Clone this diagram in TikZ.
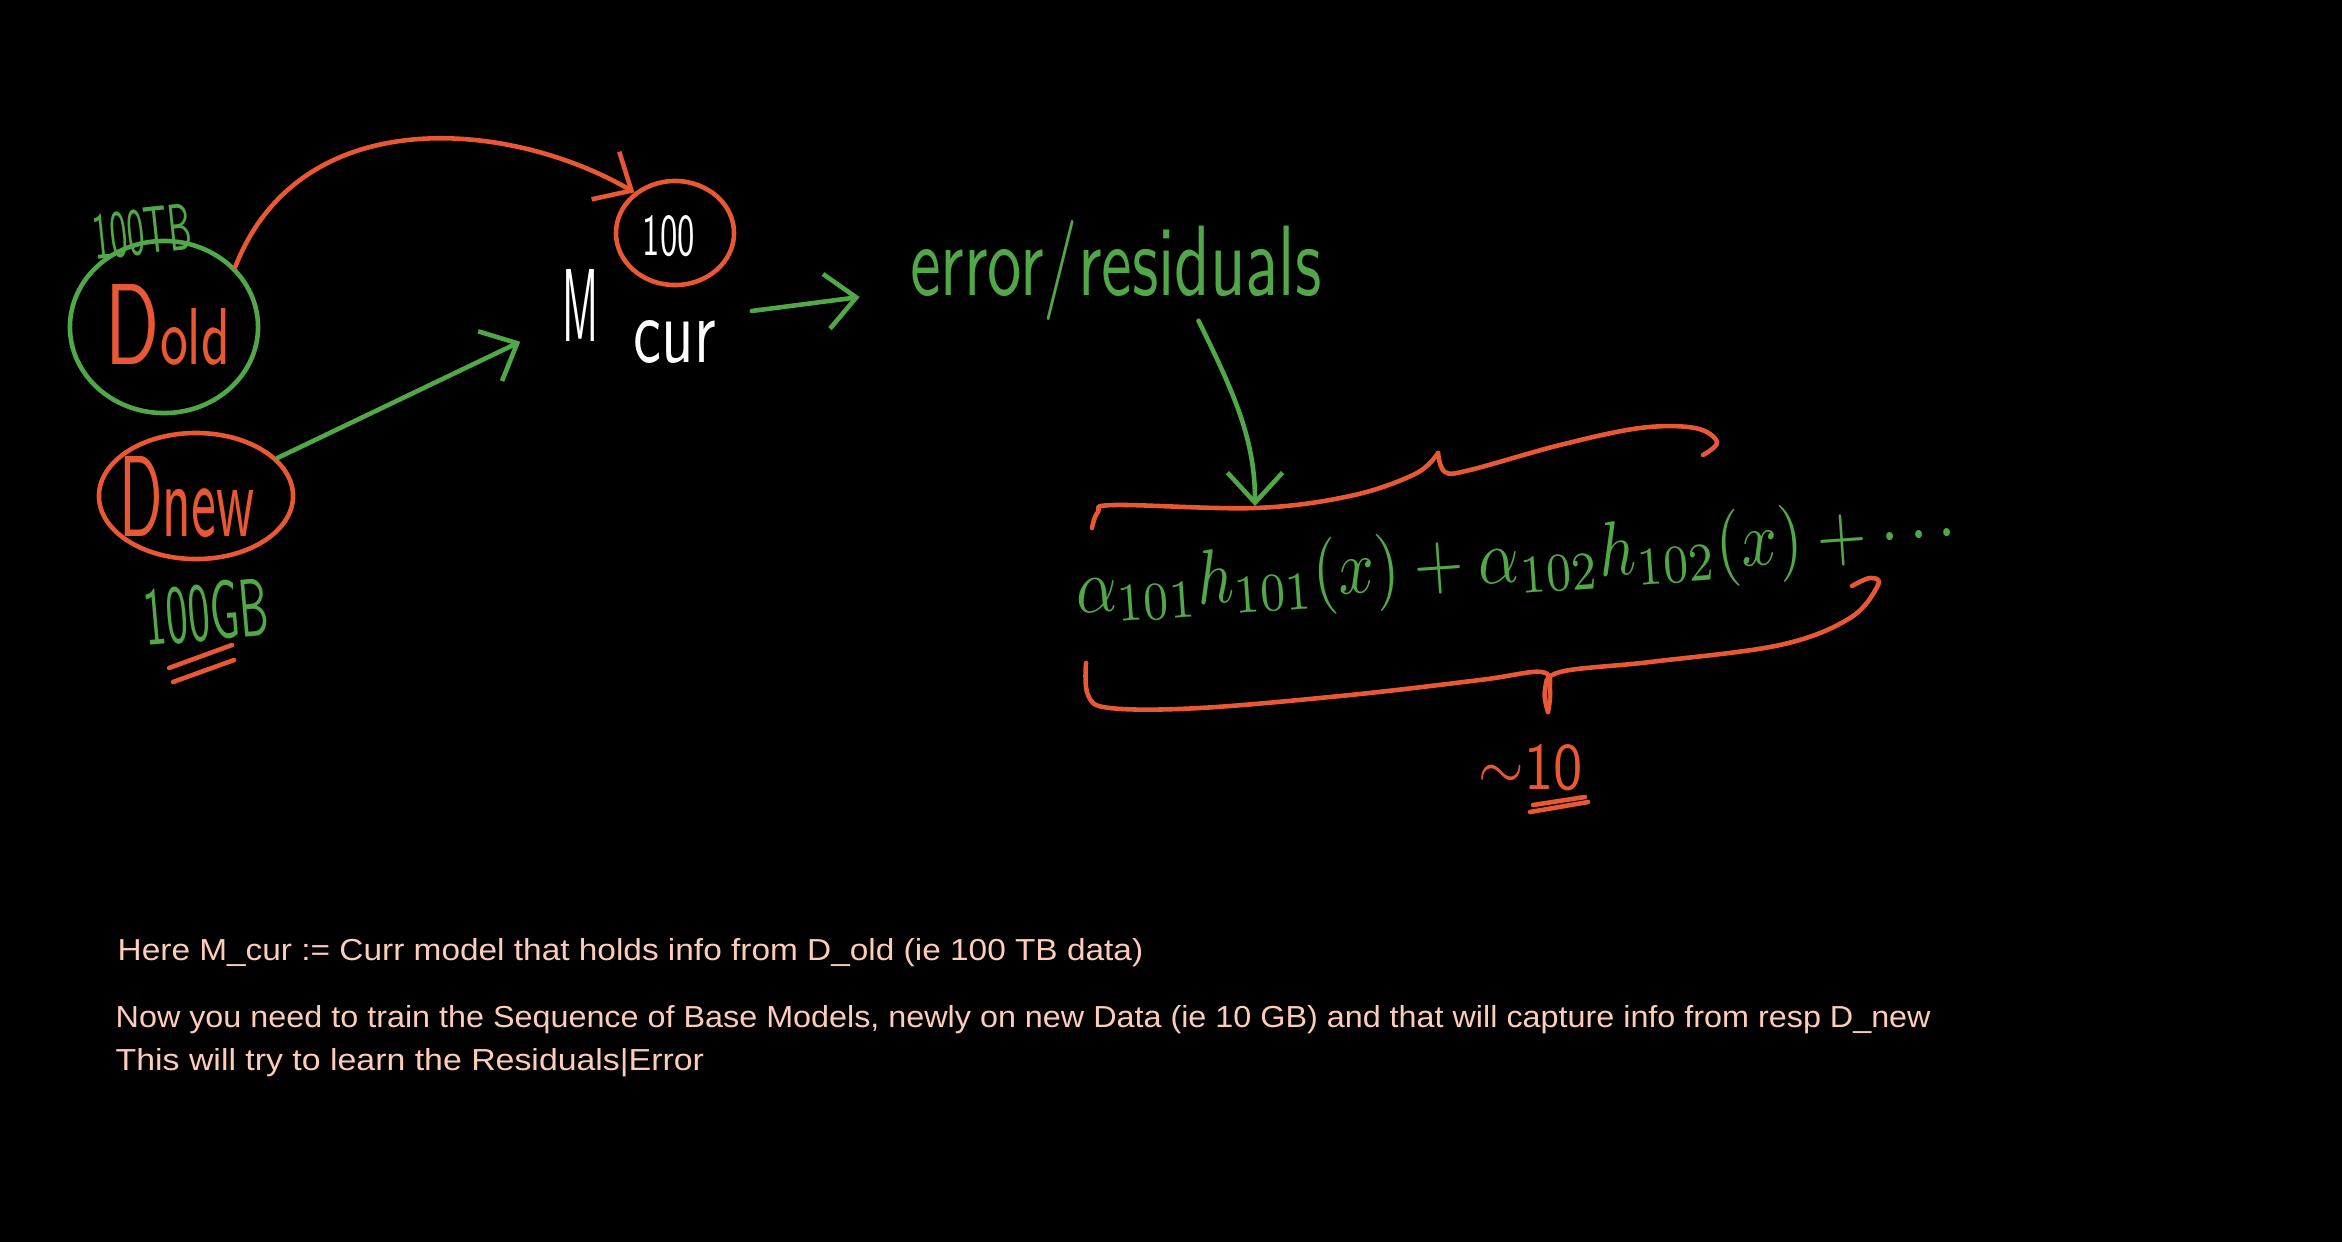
\documentclass[tikz,border=0pt]{standalone}
\usepackage{fontspec}
\setmainfont{Liberation Sans}
\usetikzlibrary{arrows.meta,shapes.geometric,calc}
\definecolor{pgreen}{RGB}{82,168,72}
\definecolor{pred}{RGB}{232,88,52}
\definecolor{peach}{RGB}{253,205,185}
\newcommand{\hwbox}[3]{\resizebox{#1}{#2}{#3}}
\begin{document}
\begin{tikzpicture}[x=0.01cm,y=-0.01cm,
  ink/.style={line width=1.3pt,line cap=round,line join=round},
  gpen/.style={ink,draw=pgreen},
  rpen/.style={ink,draw=pred},
  barb/.style={-{Straight Barb[length=3mm,width=5.5mm]}},
  lbl/.style={inner sep=0pt,font=\sffamily},
  note/.style={inner sep=0pt,anchor=base west,text=peach}]
\fill[black] (0,0) rectangle (2342,1242);
\useasboundingbox (0,0) rectangle (2342,1242);

% ---- left: data sets
\node[ellipse,gpen,minimum width=1.88cm,minimum height=1.72cm,inner sep=0pt] (dold) at (164,327) {};
\node[lbl,text=pred] (doldt) at (168,325) {\hwbox{1.24cm}{0.8cm}{D\scriptsize old}};
\node[lbl,text=pgreen,rotate=6] (tb) at (142,232) {\hwbox{0.99cm}{0.46cm}{100TB}};
\node[ellipse,rpen,minimum width=1.94cm,minimum height=1.26cm,inner sep=0pt] (dnew) at (196,496) {};
\node[lbl,text=pred] (dnewt) at (187,497) {\hwbox{1.35cm}{0.8cm}{D\small new}};
\node[lbl,text=pgreen,rotate=5] (gb) at (206,612) {\hwbox{1.24cm}{0.58cm}{100GB}};
\draw[rpen] (169,668) -- (232,645);
\draw[rpen] (173,682) -- (234,660);

% ---- model
\node[lbl,text=white] (mlet) at (581,305) {\hwbox{0.36cm}{0.72cm}{M}};
\node[lbl,text=white] (mcur) at (675,342) {\hwbox{0.82cm}{0.42cm}{cur}};
\node[lbl,text=white] (hundred) at (669,236) {\hwbox{0.52cm}{0.40cm}{100}};
\node[ellipse,rpen,minimum width=1.18cm,minimum height=1.04cm,inner sep=0pt] (c100) at (675,233) {};

\draw[rpen,barb] (dold.40) .. controls (300,100) and (510,120) .. (c100.135);
\draw[gpen,barb] (dnew.25) -- ([xshift=-0.42cm]mlet.south west);

% ---- error / residuals
\node[lbl,text=pgreen] (err) at (1116,270) {\hwbox{4.11cm}{0.75cm}{error/residuals}};
\draw[gpen,barb] ([xshift=0.35cm,yshift=0.31cm]mcur.east) -- ([xshift=-0.5cm,yshift=-0.27cm]err.west);

% ---- equation
\node[lbl,text=pgreen,rotate=4] (eq) at (1516,563) {\hwbox{8.82cm}{0.58cm}{$\alpha_{101}h_{101}(x)+\alpha_{102}h_{102}(x)+\cdots$}};
\coordinate (eqtop) at (1255,506);
\draw[gpen,barb] ($(err.south)!0.4!(err.south east)$) .. controls (1235,395) and (1255,440) .. (eqtop);

% upper brace
\draw[rpen] plot[smooth,tension=0.6] coordinates {(1092,528) (1098,512) (1115,505) (1255,508) (1350,496) (1415,474) (1438,453)};
\draw[rpen] plot[smooth,tension=0.6] coordinates {(1438,453) (1445,472) (1470,470) (1560,445) (1640,428) (1695,428) (1717,442) (1703,455)};
% lower brace
\draw[rpen] plot[smooth,tension=0.6] coordinates {(1086,663) (1088,695) (1110,708) (1200,708) (1350,695) (1480,680) (1542,672) (1550,690) (1548,712)};
\draw[rpen] plot[smooth,tension=0.6] coordinates {(1548,712) (1545,690) (1560,672) (1650,662) (1780,645) (1850,618) (1878,585) (1870,578) (1852,586)};

\node[lbl,text=pred] (approx) at (1531,768) {\hwbox{1.04cm}{0.45cm}{$\sim$10}};
\draw[rpen] (1530,812) -- (1588,802);
\draw[rpen] (1533,805) -- (1585,797);

% ---- notes
\node[note] (n1) at (117,960) {\hwbox{10.25cm}{0.22cm}{Here M\_cur := Curr model that holds info from D\_old (ie 100 TB data)}};
\node[note] (n2) at (115,1027) {\hwbox{18.14cm}{0.22cm}{Now you need to train the Sequence of Base Models, newly on new Data (ie 10 GB) and that will capture info from resp D\_new}};
\node[note] (n3) at (115,1070) {\hwbox{5.88cm}{0.22cm}{This will try to learn the Residuals|Error}};
\end{tikzpicture}
\end{document}
